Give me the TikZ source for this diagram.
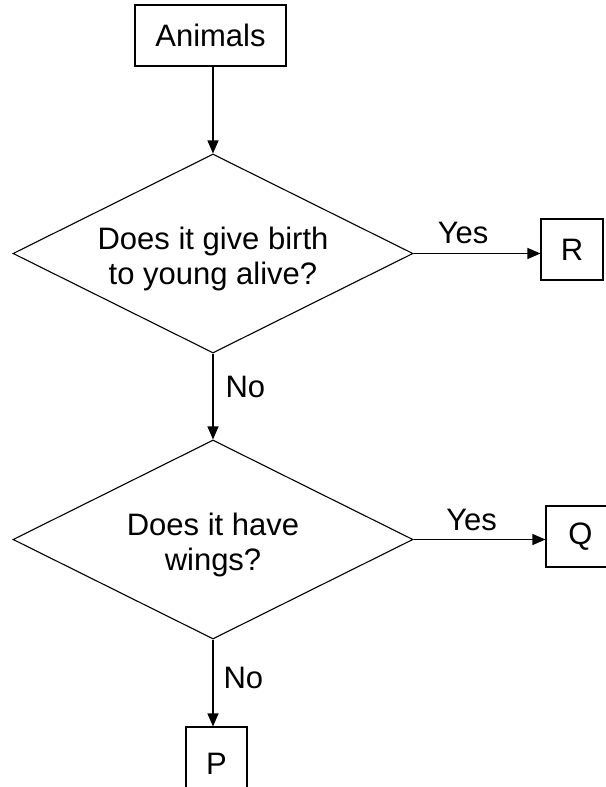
\documentclass[tikz,border=0pt]{standalone}
\usepackage{fontspec}
\setmainfont{Liberation Sans}
\usetikzlibrary{shapes.geometric,arrows.meta}
\newcommand{\topstrut}{\rule{0pt}{34pt}}
\begin{document}
\begin{tikzpicture}[x=1pt,y=-1pt,
  font=\fontsize{31}{35}\selectfont,
  box/.style={draw, line width=1.1pt, inner sep=0pt},
  decision/.style={diamond, draw, line width=1.1pt, aspect=2, align=center, minimum width=400pt, minimum height=199pt, inner sep=0pt},
  arr/.style={line width=1.1pt, -{Triangle[length=13pt,width=11pt]}},
  lbl/.style={inner sep=0pt}]
\useasboundingbox (0,0) rectangle (605,787);
\node[box, minimum width=151pt, minimum height=61pt] (animals) at (210.5,35.5) {Animals};
\node[decision] (q1) at (213,253.5) {\topstrut Does it give birth\\to young alive?};
\node[box, minimum width=62pt, minimum height=61pt] (R) at (572,249.5) {R};
\node[decision] (q2) at (213,539.5) {\topstrut Does it have\\wings?};
\node[box, minimum width=69pt, minimum height=61pt] (Q) at (580.5,536.5) {Q};
\node[box, minimum width=61pt, minimum height=73pt] (P) at (216.5,763.5) {P};
\draw[arr] (animals.south -| q1.north) -- (q1.north);
\draw[arr] (q1.east) -- (q1.east -| R.west) node[lbl, pos=0.39, anchor=base, yshift=10pt] {Yes};
\draw[arr] (q1.south) -- (q2.north) node[lbl, pos=0.39, anchor=west, xshift=12pt] {No};
\draw[arr] (q2.east) -- (q2.east -| Q.west) node[lbl, pos=0.44, anchor=base, yshift=9pt] {Yes};
\draw[arr] (q2.south) -- (q2.south |- P.north) node[lbl, pos=0.44, anchor=west, xshift=10pt] {No};
\end{tikzpicture}
\end{document}
